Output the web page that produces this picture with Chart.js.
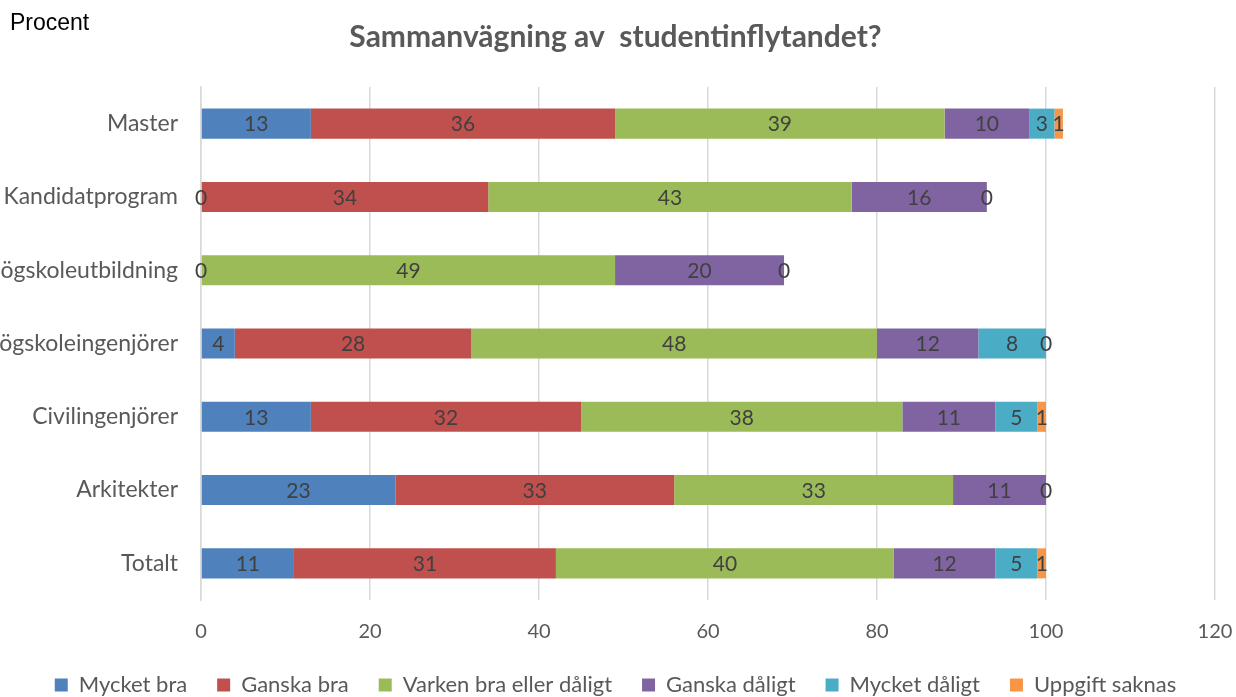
<!DOCTYPE html>
<html>
<head>
<meta charset="utf-8">
<script src="https://cdn.jsdelivr.net/npm/chart.js@4/dist/chart.umd.min.js"></script>
<style>
  html, body { margin: 0; padding: 0; background: #fff; }
  #wrap { width: 1236px; height: 697px; }
</style>
</head>
<body>
<div id="wrap"><canvas id="c" width="1236" height="697"></canvas></div>
<script>
var categories = ['Master', 'Kandidatprogram', 'Högskoleutbildning', 'Högskoleingenjörer', 'Civilingenjörer', 'Arkitekter', 'Totalt'];
var mycketBra     = [13, 0, 0, 4, 13, 23, 11];
var ganskaBra     = [36, 34, null, 28, 32, 33, 31];
var varken        = [39, 43, 49, 48, 38, 33, 40];
var ganskaDaligt  = [10, 16, 20, 12, 11, 11, 12];
var mycketDaligt  = [3, null, null, 8, 5, null, 5];
var uppgiftSaknas = [1, 0, 0, 0, 1, 0, 1];
var xTicks = [0, 20, 40, 60, 80, 100, 120];

var FONT = 'Lato, sans-serif';
var GREY = '#595959';

// draws value labels centered on each segment, like Excel data labels
var valueLabels = {
  id: 'valueLabels',
  afterDatasetsDraw: function(chart) {
    var ctx = chart.ctx;
    ctx.save();
    ctx.font = '21px ' + FONT;
    ctx.fillStyle = '#404040';
    ctx.textAlign = 'center';
    ctx.textBaseline = 'middle';
    chart.data.datasets.forEach(function(ds, i) {
      var meta = chart.getDatasetMeta(i);
      meta.data.forEach(function(bar, j) {
        var v = ds.data[j];
        if (v === null || v === undefined) return;
        var x = (bar.x + bar.base) / 2;
        ctx.fillText(String(v), x, bar.y + 1);
      });
    });
    ctx.restore();
  }
};

var cornerText = {
  id: 'cornerText',
  afterDraw: function(chart) {
    var ctx = chart.ctx;
    ctx.save();
    ctx.font = '23px "Liberation Sans", Arial, sans-serif';
    ctx.fillStyle = '#000';
    ctx.textBaseline = 'middle';
    ctx.fillText('Procent', 10, 24);
    ctx.restore();
  }
};

function ds(label, data, color) {
  return {
    label: label,
    data: data,
    backgroundColor: color,
    borderWidth: 0,
    categoryPercentage: 1,
    barPercentage: 0.41
  };
}

new Chart(document.getElementById('c'), {
  type: 'bar',
  data: {
    labels: categories,
    datasets: [
      ds('Mycket bra', mycketBra, '#4F81BD'),
      ds('Ganska bra', ganskaBra, '#C0504D'),
      ds('Varken bra eller dåligt', varken, '#9BBB59'),
      ds('Ganska dåligt', ganskaDaligt, '#8064A2'),
      ds('Mycket dåligt', mycketDaligt, '#4BACC6'),
      ds('Uppgift saknas', uppgiftSaknas, '#F79646')
    ]
  },
  options: {
    indexAxis: 'y',
    responsive: false,
    animation: false,
    layout: { padding: { left: 0, right: 5, top: 0, bottom: -9 } },
    scales: {
      x: {
        stacked: true,
        min: 0,
        max: 120,
        afterBuildTicks: function(scale) {
          scale.ticks = xTicks.map(function(v) { return { value: v }; });
        },
        afterFit: function(scale) {
          scale.height = 44;
          scale.paddingRight = 21;
          scale.paddingLeft = 0;
        },
        grid: { color: '#d9d9d9', lineWidth: 1.5, drawTicks: false },
        border: { display: false },
        ticks: { color: GREY, font: { family: FONT, size: 20 }, padding: 20 }
      },
      y: {
        stacked: true,
        afterFit: function(scale) { scale.width = 201; },
        grid: { display: false },
        border: { display: true, color: '#d9d9d9', width: 1.5 },
        ticks: { color: GREY, font: { family: FONT, size: 23 }, padding: 15 }
      }
    },
    plugins: {
      title: {
        display: true,
        text: 'Sammanvägning av  studentinflytandet?',
        color: GREY,
        font: { family: FONT, size: 30, weight: 'bold' },
        padding: { top: 19, bottom: 32 }
      },
      legend: {
        position: 'bottom',
        labels: {
          color: GREY,
          font: { family: FONT, size: 22 },
          boxWidth: 13,
          boxHeight: 13,
          padding: 30
        }
      },
      tooltip: { enabled: false }
    }
  },
  plugins: [valueLabels, cornerText]
});
</script>
</body>
</html>
